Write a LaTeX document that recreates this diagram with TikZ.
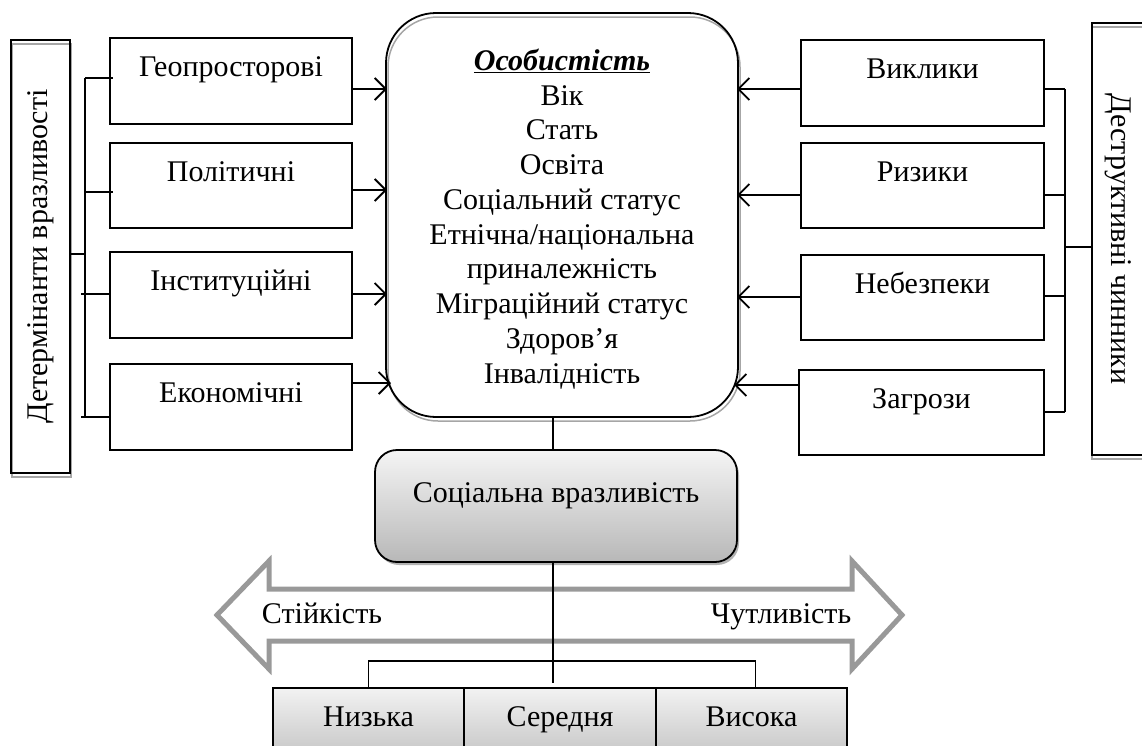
\documentclass[tikz,border=0pt]{standalone}
\usepackage{fontspec}
\setmainfont{Liberation Serif}
\usetikzlibrary{arrows.meta,shadows}
\begin{document}
\begin{tikzpicture}[x=1pt,y=-1pt,
  every node/.style={font=\fontsize{30}{34.75}\selectfont, inner sep=0pt, outer sep=0pt},
  sbox/.style={draw, line width=1.8pt, anchor=north west, text height=38pt},
  gbox/.style={draw, line width=1.8pt, anchor=north west, text height=38pt, text depth=40pt,
               top color=black!5, bottom color=black!25},
  vbox/.style={draw, line width=1.8pt},
  conn/.style={line width=1.8pt},
  arr/.style={line width=1.8pt, -{Straight Barb[length=11pt,width=22pt]}},
  shadeline/.style={draw=black!35, line width=1.5pt},
  bigarrow/.style={draw=black!40, line width=5pt, line join=miter},
  plain/.style={anchor=base}
]
\useasboundingbox (0,0) rectangle (1142,745);
\clip (0,0) rectangle (1142,745);

% big double arrow (behind)
\draw[bigarrow] (217,615) -- (269,561) -- (269,589) -- (852,589) -- (852,561) -- (902,615)
  -- (852,669) -- (852,641) -- (269,641) -- (269,669) -- cycle;
\node[plain] (st) at (322,623) {Стійкість};
\node[plain] (chut) at (781,623) {Чутливість};

% vertical boxes
\draw[shadeline] (12,44) rectangle (71,477);
\node[vbox, rotate=90, minimum width=433pt, minimum height=59pt] (det) at (40.5,256.5) {Детермінанти вразливості};
\draw[shadeline] (1092,27) rectangle (1150,459);
\node[vbox, rotate=-90, minimum width=432pt, minimum height=52pt] (destr) at (1118,239) {Деструктивні чинники};

% left boxes
\node[sbox, minimum width=242pt, text depth=48pt] (geo) at (110,38) {Геопросторові};
\node[sbox, minimum width=242pt, text depth=47pt] (pol) at (110,143) {Політичні};
\node[sbox, minimum width=242pt, text depth=48pt] (inst) at (110,252) {Інституційні};
\node[sbox, minimum width=242pt, text depth=48pt] (econ) at (110,364) {Економічні};

% right boxes
\node[sbox, minimum width=243pt, text depth=48pt] (vyk) at (801,40) {Виклики};
\node[sbox, minimum width=243pt, text depth=47pt] (ryz) at (801,143) {Ризики};
\node[sbox, minimum width=243pt, text depth=47pt] (neb) at (801,255) {Небезпеки};
\node[sbox, minimum width=245pt, text depth=47pt] (zahr) at (799,370) {Загрози};

% central box
\node[draw=black!35, line width=1.5pt, rounded corners=50pt, minimum width=352pt, minimum height=404pt] (persshadow) at (564,219) {};
\node[draw, line width=1.8pt, rounded corners=50pt, minimum width=352pt, minimum height=404pt] (pers) at (562,215) {};
\node[anchor=north, align=center] (perstext) at (562,49) {\textbf{\textit{\underline{Особистість}}}\\Вік\\Стать\\Освіта\\Соціальний статус\\Етнічна/національна\\приналежність\\Міграційний статус\\Здоров’я\\Інвалідність};

% social vulnerability box
\node[draw, line width=1.8pt, rounded corners=22pt, minimum width=362pt, anchor=north west,
      text height=52pt, text depth=60pt, top color=black!4, bottom color=black!28,
      drop shadow={shadow xshift=2pt, shadow yshift=-3pt, fill=black!60}] (soc) at (375,450) {Соціальна вразливість};

% bottom boxes
\node[gbox, minimum width=191pt] (low) at (273,688) {Низька};
\node[gbox, minimum width=192pt] (mid) at (464,688) {Середня};
\node[gbox, minimum width=191pt] (high) at (656,688) {Висока};

% left bracket
\coordinate (lbt) at (85,78);
\coordinate (lbb) at (85,417);
\draw[conn] (lbt) -- (lbb);
\draw[conn] (lbt) -- ([xshift=3pt]geo.west |- lbt);
\draw[conn] (85,192) -- ([xshift=3pt]pol.west |- 0,192);
\draw[conn] (81,294) -- (inst.west |- 0,294);
\draw[conn] (81,417) -- (econ.west |- 0,417);
\draw[conn] (det.south |- 0,254) -- (85,254);

% left arrows
\draw[arr] (geo.east |- 0,89) -- ([xshift=1pt]pers.west |- 0,89);
\draw[arr] (pol.east |- 0,190) -- ([xshift=1pt]pers.west |- 0,190);
\draw[arr] (inst.east |- 0,294) -- ([xshift=1pt]pers.west |- 0,294);
\draw[arr] (econ.east |- 0,383) -- ([xshift=5pt]pers.west |- 0,383);

% right bracket
\coordinate (rbt) at (1065,89);
\coordinate (rbb) at (1065,412);
\draw[conn] (rbt) -- (rbb);
\draw[conn] (vyk.east |- rbt) -- (rbt);
\draw[conn] (ryz.east |- 0,195) -- (1065,195);
\draw[conn] (neb.east |- 0,296) -- (1065,296);
\draw[conn] (zahr.east |- rbb) -- (rbb);
\draw[conn] (1065,247) -- (destr.south |- 0,247);

% right arrows
\draw[arr] (vyk.west |- 0,89) -- ([xshift=-1pt]pers.east |- 0,89);
\draw[arr] (ryz.west |- 0,195) -- ([xshift=-1pt]pers.east |- 0,195);
\draw[arr] (neb.west |- 0,297) -- ([xshift=-1pt]pers.east |- 0,297);
\draw[arr] (zahr.west |- 0,385) -- ([xshift=-4pt]pers.east |- 0,385);

% vertical connectors
\draw[conn] (553,0 |- pers.south) -- (553,0 |- soc.north);
\draw[conn] (553,0 |- soc.south) -- (553,683);
\draw[conn] (low.north) -- ++(0,-27) -| ([xshift=4pt]high.north);
\end{tikzpicture}
\end{document}
